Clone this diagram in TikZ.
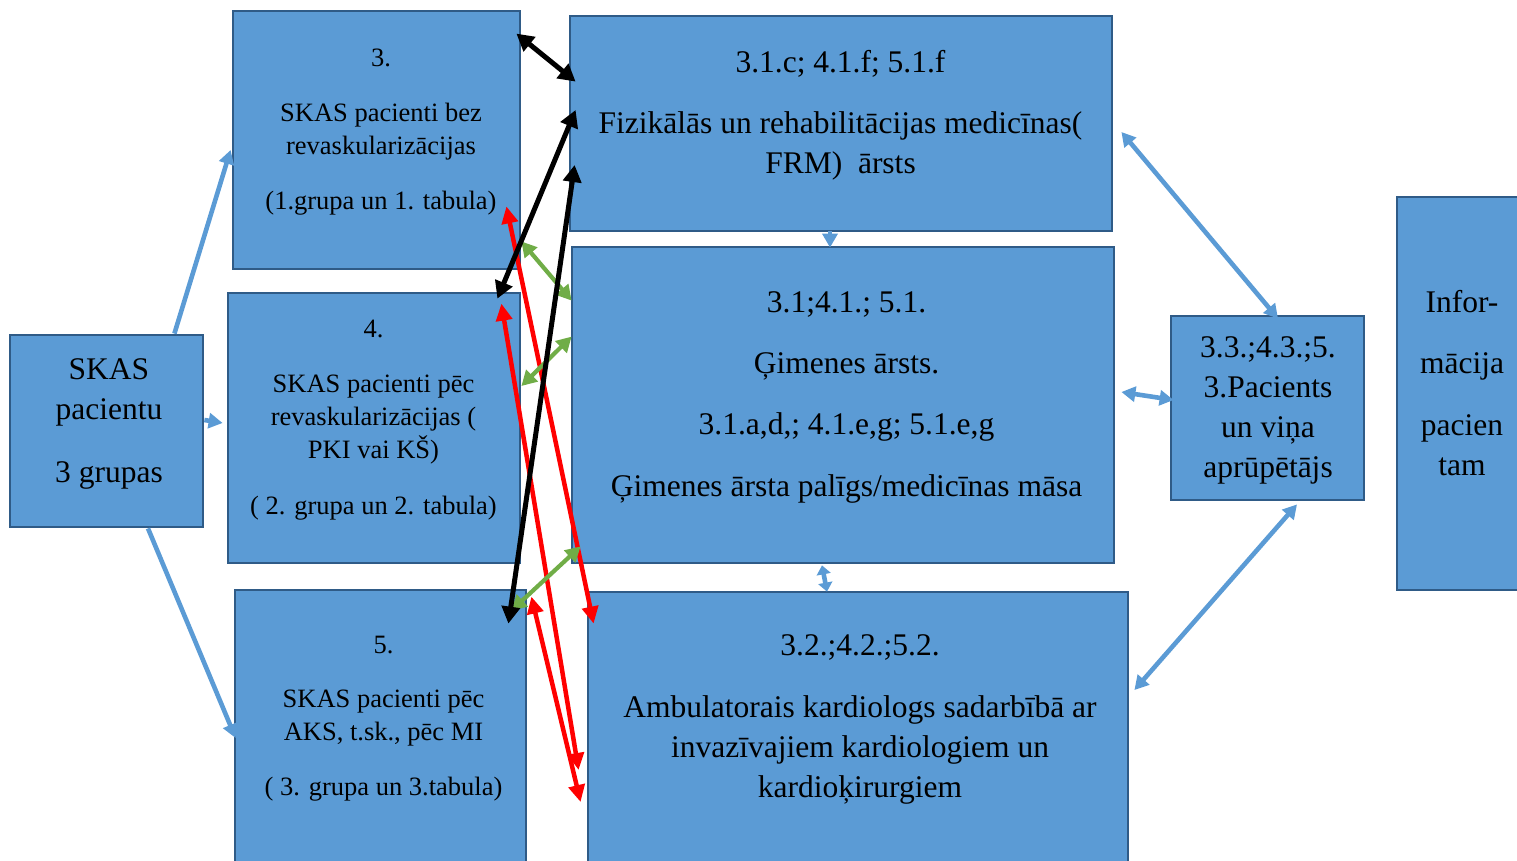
\documentclass[tikz,border=0pt]{standalone}
\usepackage{fontspec}
\setmainfont{Liberation Serif}
\usepackage{tikz}
\usetikzlibrary{arrows.meta,calc,positioning}
\definecolor{boxblue}{HTML}{5B9BD5}
\definecolor{boxline}{HTML}{2F5B87}
\definecolor{linkgreen}{HTML}{70AD47}

\begin{document}
\begin{tikzpicture}[x=1pt,y=-1pt,
  box/.style={draw=boxline,fill=boxblue,line width=2.8pt,inner sep=0pt},
  bigtext/.style={align=center,font=\fontsize{31.5}{40}\selectfont,inner sep=0pt},
  smalltext/.style={align=center,font=\fontsize{26.5}{33}\selectfont,inner sep=0pt},
  bluearr/.style={draw=boxblue,line width=4.6pt,-{Triangle[width=15pt,length=14pt]}},
  blueboth/.style={draw=boxblue,line width=4.6pt,{Triangle[width=15pt,length=14pt]}-{Triangle[width=15pt,length=14pt]}},
  shortboth/.style={draw=boxblue,line width=4.6pt,{Triangle[width=14pt,length=9pt]}-{Triangle[width=14pt,length=9pt]}},
  blackboth/.style={draw=black,line width=5pt,{Triangle[width=18pt,length=17pt]}-{Triangle[width=18pt,length=17pt]}},
  greenboth/.style={draw=linkgreen,line width=4.2pt,{Triangle[width=16pt,length=15pt]}-{Triangle[width=16pt,length=15pt]}},
  redboth/.style={draw=red,line width=4.5pt,{Triangle[width=16pt,length=17pt]}-{Triangle[width=16pt,length=17pt]}}
]
\useasboundingbox (0,0) rectangle (1517,861);
\node[box,minimum width=193pt,minimum height=192pt] (a) at (106.5,431) {};
\node[box,minimum width=287pt,minimum height=258pt] (b3) at (376.5,140) {};
\node[box,minimum width=292pt,minimum height=270pt] (b4) at (374,428) {};
\node[box,minimum width=291pt,minimum height=290pt] (b5) at (380.5,735) {};
\node[box,minimum width=542pt,minimum height=215pt] (c1) at (841,123.5) {};
\node[box,minimum width=542pt,minimum height=316pt] (c2) at (843,405) {};
\node[box,minimum width=540pt,minimum height=288pt] (c3) at (858,736) {};
\node[box,minimum width=193pt,minimum height=184pt] (d) at (1267.5,408) {};
\node[box,minimum width=133pt,minimum height=393pt] (e) at (1463.5,393.5) {};

\node[bigtext] (at) at (109,424) {SKAS\\pacientu\\[23pt]3 grupas};
\node[smalltext] (b3t) at (381,132.5) {3.\\[22pt]SKAS pacienti bez\\revaskularizācijas\\[22pt](1.grupa un 1. tabula)};
\node[smalltext] (b4t) at (373.5,420) {4.\\[22pt]SKAS pacienti pēc\\revaskularizācijas (\\PKI vai KŠ)\\[23pt]( 2. grupa un 2. tabula)};
\node[smalltext] (b5t) at (383.5,719) {5.\\[21pt]SKAS pacienti pēc\\AKS, t.sk., pēc MI\\[22pt]( 3. grupa un 3.tabula)};
\node[bigtext] (c1t) at (840.5,115.5) {3.1.c; 4.1.f; 5.1.f\\[21pt]Fizikālās un rehabilitācijas medicīnas(\\FRM)\ \ ārsts};
\node[bigtext] (c2t) at (846.5,397) {3.1;4.1.; 5.1.\\[21pt]Ģimenes ārsts.\\[21pt]3.1.a,d,; 4.1.e,g; 5.1.e,g\\[22pt]Ģimenes ārsta palīgs/medicīnas māsa};
\node[bigtext] (c3t) at (860,719) {3.2.;4.2.;5.2.\\[22pt]Ambulatorais kardiologs sadarbībā ar\\invazīvajiem kardiologiem un\\kardioķirurgiem};
\node[bigtext] (dt) at (1268,410.5) {3.3.;4.3.;5.\\3.Pacients\\un viņa\\aprūpētājs};
\node[bigtext] (et) at (1462,383) {Infor-\\[21pt]mācija\\[22pt]pacien\\tam};

\draw[bluearr] ($(a.north east)+(-30,0)$) -- ($(b3.west)+(-1,10)$);
\draw[bluearr] ($(a.east)+(0,-11)$) -- ($(b4.west)+(-4,-5)$);
\draw[bluearr] ($(a.south)+(41.5,0)$) -- ($(b5.west)+(2,3)$);
\draw[bluearr] ($(c1.south)+(-11,-1)$) -- ($(c2.north)+(-13,2)$);
\draw[shortboth] ($(c2.south)+(-21,1)$) -- ($(c3.north)+(-31,1)$);
\draw[blueboth] ($(c1.east)+(8,8.5)$) -- ($(d.north)+(10.5,4)$);
\draw[blueboth] ($(c2.east)+(6,-13)$) -- ($(d.west)+(4,-8)$);
\draw[blueboth] ($(c3.east)+(5,-46)$) -- ($(d.south)+(29.5,3)$);

\draw[redboth] ($(b3.south east)+(-15,-64)$) -- ($(c3.north west)+(7,33)$);
\draw[redboth] ($(b4.north east)+(-20,12)$) -- ($(c3.west)+(-8,34)$);
\draw[redboth] ($(b5.north east)+(4,8)$) -- ($(c3.west)+(-6,66)$);

\draw[greenboth] ($(b3.south east)+(0,-29)$) -- ($(c2.north west)+(1,55)$);
\draw[greenboth] ($(c2.north west)+(1,91)$) -- ($(b4.east)+(0,-42)$);
\draw[greenboth] ($(c2.south west)+(10,-18)$) -- ($(b5.north east)+(-16,22)$);

\draw[blackboth] ($(b3.north east)+(-5,24)$) -- ($(c1.north west)+(7,67)$);
\draw[blackboth] ($(c1.west)+(7,-13.5)$) -- ($(b4.north east)+(-24,7)$);
\draw[blackboth] ($(c1.west)+(6,41.5)$) -- ($(b5.north east)+(-19,35)$);
\end{tikzpicture}
\end{document}
